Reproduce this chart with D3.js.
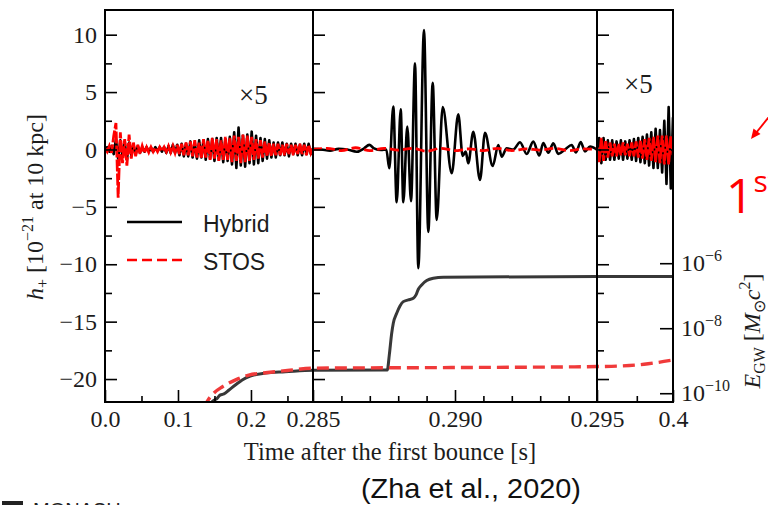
<!DOCTYPE html>
<html><head><meta charset="utf-8">
<script src="https://cdn.jsdelivr.net/npm/d3@7"></script>
<style>body{margin:0;background:#fff}svg{display:block}</style>
</head><body><svg id="c" width="768" height="505"></svg>
<script>
// ---------------- DATA ----------------
// time breakpoints of the three panels [s]
const panelBreaks = [0, 0.285, 0.295, 0.4];
const hDomain = [-22, 12.15];
const eDomainExp = [-10.27, 1.79];

const xMajorTicks = [0, 0.1, 0.2, 0.285, 0.29, 0.295, 0.4];
const xMajorLabels = ["0.0", "0.1", "0.2", "0.285", "0.290", "0.295", "0.4"];
const xMinorTicks = [0.05, 0.15, 0.25, 0.286, 0.287, 0.288, 0.289, 0.291, 0.292, 0.293, 0.294, 0.35];
const hMajorTicks = [-20, -15, -10, -5, 0, 5, 10];
const hMinorTicks = [-17.5, -12.5, -7.5, -2.5, 2.5, 7.5];
const eTicks = [1e-6, 1e-8, 1e-10];
const eTickExp = ["−6", "−8", "−10"];

// panel 1 (shown x5)
const p1Time = [0,0.003,0.006,0.009,0.012,0.015,0.018,0.021,0.024,0.027,0.03,0.033,0.036,0.039,0.042,0.045,0.048,0.051,0.054,0.057,0.06,0.063,0.066,0.069,0.072,0.075,0.078,0.081,0.084,0.087,0.09,0.093,0.096,0.099,0.102,0.105,0.108,0.111,0.114,0.117,0.12,0.123,0.126,0.129,0.132,0.135,0.138,0.141,0.144,0.147,0.15,0.153,0.156,0.159,0.162,0.165,0.168,0.171,0.174,0.177,0.18,0.183,0.186,0.189,0.192,0.195,0.198,0.201,0.204,0.207,0.21,0.213,0.216,0.219,0.222,0.225,0.228,0.231,0.234,0.237,0.24,0.243,0.246,0.249,0.252,0.255,0.258,0.261,0.264,0.267,0.27,0.273,0.276,0.279,0.282,0.285];
const p1HybridX5 = [0,0.2,-0.2,0.3,-0.4,0.9,-0.8,0.8,-0.6,0.7,
 -0.9,0.6,-0.5,0.4,-0.4,0.3,-0.3,0.2,-0.2,0.2,
 -0.2,0.15,-0.2,0.2,-0.15,0.2,-0.2,0.2,-0.3,0.3,
 -0.3,0.4,-0.3,0.4,-0.5,0.5,-0.6,0.5,-0.6,0.7,
 -0.7,0.6,-0.8,0.8,-0.7,0.8,-0.9,0.9,-0.8,0.9,
 -1.0,1.0,-0.9,1.0,-1.1,0.9,-1.0,1.1,-1.3,1.5,
 -1.6,1.9,-1.4,1.2,-1.5,1.3,-1.2,1.55,-1.3,1.2,
 -1.2,1.0,-1.0,0.9,-0.8,0.8,-0.7,0.6,-0.7,0.6,
 -0.5,0.6,-0.5,0.5,-0.6,0.5,-0.4,0.5,-0.5,0.4,
 -0.5,0.5,-0.4,0.5,-0.4,0.1];
const p1StosX5 = [0.1,-0.2,0.3,-0.3,1.2,2.3,-4.2,1.5,-1.2,0.9,
 -1.4,1.3,-0.8,0.6,-0.6,0.4,-0.4,0.3,-0.3,0.2,
 -0.25,0.2,-0.2,0.15,-0.2,0.2,-0.15,0.2,-0.2,0.3,
 -0.25,0.3,-0.3,0.4,-0.4,0.5,-0.5,0.6,-0.5,0.7,
 -0.6,0.8,-0.7,0.6,-0.8,0.9,-0.7,0.8,-0.9,1.0,
 -0.8,0.9,-1.0,0.8,-0.9,1.1,-0.9,1.0,-1.1,1.2,
 -1.0,1.1,-1.2,1.3,-1.1,1.2,-1.0,1.1,-0.9,0.9,
 -0.8,0.8,-0.7,0.7,-0.6,0.6,-0.6,0.5,-0.5,0.5,
 -0.5,0.4,-0.5,0.5,-0.4,0.4,-0.5,0.4,-0.4,0.5,
 -0.4,0.4,-0.5,0.4,-0.3,0.2];

// panel 2 (true scale)
const p2HybridTime = [0.285,0.2853,0.2856,0.2859,0.2862,0.28654,0.2868,0.28698,0.28715,0.2874,0.28758,
 0.287687,0.287827,0.287947,0.288088,0.28818,0.28832,0.288451,0.288592,0.288708,0.288908,0.28906,0.289215,0.289356,0.289567,
 0.289884,0.290116,0.290271,0.290377,0.290468,0.290644,0.29088,0.291056,0.291327,0.291525,0.291644,0.29182,0.292053,
 0.292289,0.292525,0.292757,0.292968,0.293109,0.293285,0.293461,0.293637,0.293873,0.294109,0.294261,0.294426,0.294577,0.294754,0.294989];
const p2Hybrid = [0.05,0,-0.1,0.05,0,-0.2,0.1,0.4,0.1,-0.05,0,
 -1.64,3.73,-4.6,3.5,-4.6,2.0,-4.5,7.5,-10.35,10.4,-7.18,5.8,-6.14,3.7,
 -2.07,3.07,-0.57,-0.19,-1.2,1.55,-2.66,1.46,-1.44,0.39,-0.62,0.1,0,
 0.63,-0.39,0.68,-0.53,0.56,-0.29,0.54,-0.39,0,0.39,-0.25,0.65,-0.17,0.26,0];
const p2StosTime = [0.285,0.2855,0.286,0.2865,0.287,0.2875,0.288,0.2885,0.289,0.2895,0.29,0.2905,0.291,0.2915,0.292,0.2925,0.293,0.2935,0.294,0.2945,0.295];
const p2Stos = [0,0.1,-0.1,0.15,-0.1,0.1,-0.05,0.1,-0.15,0.1,-0.1,0.05,-0.1,0.1,-0.1,0.05,-0.05,0.1,-0.1,0.05,0];

// panel 3 (shown x5)
const p3Time = [0.295,0.298,0.301,0.304,0.307,0.31,0.313,0.316,0.319,0.322,0.325,0.328,0.331,0.334,0.337,0.34,0.343,0.346,0.349,0.352,0.355,0.358,0.361,0.364,0.367,0.37,0.373,0.376,0.379,0.382,0.385,0.388,0.391,0.394,0.397,0.4];
const p3HybridX5 = [0,1.0,-1.2,1.0,-0.9,0.8,-0.9,0.8,-0.9,0.7,
 -0.8,0.8,-0.9,0.7,-0.8,0.8,-0.9,0.9,-1.0,1.0,
 -1.1,1.1,-1.2,1.3,-1.4,1.5,-1.6,1.8,-1.6,1.7,
 -2.0,2.5,-3.0,3.7,-3.4,2.8];
const p3StosX5 = [0.2,-1.1,1.0,-1.0,0.8,-0.7,0.6,-0.6,0.5,-0.6,
 0.5,-0.5,0.6,-0.5,0.5,-0.6,0.6,-0.6,0.7,-0.7,
 0.8,-0.8,0.9,-0.9,1.0,-1.0,1.1,-1.1,1.2,-1.2,
 1.2,-1.3,1.2,-1.3,1.2,-0.5];

// cumulative GW energy [M_sun c^2]
const eHybridTime = [0.14,0.147,0.154,0.158,0.163,0.17,0.179,0.188,0.199,0.22,0.247,0.285,0.287616,0.287687,0.287771,0.287827,0.287947,0.288063,0.28818,0.288356,0.288532,0.288627,0.288708,0.288827,0.289004,0.289236,0.289588,0.295,0.4];
const eHybrid = [3.5e-11,5.5e-11,7.1e-11,8.9e-11,9.5e-11,1.26e-10,1.82e-10,2.57e-10,3.39e-10,4.17e-10,4.57e-10,5.13e-10,5.21e-10,1.51e-9,7.02e-9,1.43e-8,2.9e-8,4.85e-8,6.58e-8,7.43e-8,8.38e-8,1.06e-7,1.58e-7,2.15e-7,2.92e-7,3.45e-7,3.71e-7,3.87e-7,3.87e-7];
const eStosTime = [0.136,0.14,0.149,0.161,0.179,0.197,0.22,0.25,0.285,0.29,0.295,0.33,0.36,0.38,0.4];
const eStos = [3.5e-11,5.5e-11,1.0e-10,1.58e-10,2.57e-10,3.63e-10,4.27e-10,5.0e-10,5.89e-10,6.17e-10,6.61e-10,6.92e-10,7.76e-10,8.91e-10,1.05e-9];

const legendLabels = ["Hybrid", "STOS"];

// ---------------- DRAW ----------------
const svg = d3.select("#c");
const L = 105, R = 673, T = 10, B = 402;
const serif = "'Liberation Serif','Times New Roman',serif";
const sans = "'Liberation Sans',Arial,sans-serif";
const ink = "#1c1c1c";

const x = d3.scaleLinear().domain(panelBreaks).range([L, 313, 597, R]);
const yH = d3.scaleLinear().domain(hDomain).range([B, T]);
const yE = d3.scaleLog().domain(eDomainExp.map(e => Math.pow(10, e))).range([B, T]);

svg.append("defs").append("clipPath").attr("id", "clip")
  .append("rect").attr("x", L).attr("y", T).attr("width", R - L).attr("height", B - T);
const plot = svg.append("g").attr("clip-path", "url(#clip)");

const zip = (ts, vs) => ts.map((t, i) => ({ t, v: vs[i] }));
const lineH = (curve) => d3.line().x(d => x(d.t)).y(d => yH(d.v)).curve(curve);
const lineE = d3.line().x(d => x(d.t)).y(d => yE(d.v)).curve(d3.curveMonotoneX);

// energy curves
plot.append("path").datum(zip(eHybridTime, eHybrid)).attr("d", lineE)
  .attr("fill", "none").attr("stroke", "#383838").attr("stroke-width", 3);
plot.append("path").datum(zip(eStosTime, eStos)).attr("d", lineE)
  .attr("fill", "none").attr("stroke", "#f03a3a").attr("stroke-width", 3.4).attr("stroke-dasharray", "12,6");

// h+ Hybrid
[[p1Time, p1HybridX5, d3.curveLinear], [p2HybridTime, p2Hybrid, d3.curveMonotoneX], [p3Time, p3HybridX5, d3.curveLinear]]
  .forEach(([ts, vs, c]) => plot.append("path").datum(zip(ts, vs)).attr("d", lineH(c))
    .attr("fill", "none").attr("stroke", "#000").attr("stroke-width", 2.6).attr("stroke-linejoin", "round"));
// h+ STOS
[[p1Time, p1StosX5, d3.curveLinear, "12,2"], [p2StosTime, p2Stos, d3.curveMonotoneX, "9,4"], [p3Time, p3StosX5, d3.curveLinear, "12,2"]]
  .forEach(([ts, vs, c, dash]) => plot.append("path").datum(zip(ts, vs)).attr("d", lineH(c))
    .attr("fill", "none").attr("stroke", "#ff0000").attr("stroke-width", 2.8).attr("stroke-dasharray", dash));

// axes helper
function place(axis, tx, ty) {
  const g = svg.append("g").attr("transform", `translate(${tx},${ty})`).call(axis);
  g.select(".domain").remove();
  g.selectAll("line").attr("stroke", "#000").attr("stroke-width", 1.6);
  g.selectAll("text").attr("font-family", serif).attr("font-size", 24).attr("fill", ink);
  return g;
}
// bottom
place(d3.axisBottom(x).tickValues(xMajorTicks).tickSize(-12).tickPadding(8)
  .tickFormat((d, i) => xMajorLabels[i]), 0, B);
place(d3.axisBottom(x).tickValues(xMinorTicks).tickSize(-6).tickFormat(""), 0, B);
// left + dividers
const minus = d => d < 0 ? "−" + (-d) : String(d);
place(d3.axisLeft(yH).tickValues(hMajorTicks).tickSize(-12).tickPadding(8).tickFormat(minus), L, 0);
place(d3.axisLeft(yH).tickValues(hMinorTicks).tickSize(-7).tickFormat(""), L, 0);
[0.285, 0.295].forEach(t => {
  place(d3.axisLeft(yH).tickValues(hMajorTicks).tickSize(-12).tickFormat(""), x(t), 0);
  place(d3.axisLeft(yH).tickValues(hMinorTicks).tickSize(-7).tickFormat(""), x(t), 0);
});
// right log axis
place(d3.axisRight(yE).tickValues(eTicks).tickSize(-13).tickFormat(""), R, 0);
eTicks.forEach((v, i) => {
  const t = svg.append("text").attr("x", R + 8).attr("y", yE(v) + 8)
    .attr("font-family", serif).attr("font-size", 24).attr("fill", ink);
  t.append("tspan").text("10");
  t.append("tspan").attr("dy", -10).attr("font-size", 16).text(eTickExp[i]);
});

// frame
svg.append("rect").attr("x", L).attr("y", T).attr("width", R - L).attr("height", B - T)
  .attr("fill", "none").attr("stroke", "#000").attr("stroke-width", 2);
[0.285, 0.295].forEach(t => svg.append("line").attr("x1", x(t)).attr("x2", x(t))
  .attr("y1", T).attr("y2", B).attr("stroke", "#000").attr("stroke-width", 2));

// x5 labels
[[239, 104], [624, 93]].forEach(([px, py]) => svg.append("text").attr("x", px).attr("y", py)
  .attr("font-family", serif).attr("font-size", 27).attr("fill", ink).text("×5"));

// legend
svg.append("line").attr("x1", 127).attr("x2", 182).attr("y1", 222).attr("y2", 222)
  .attr("stroke", "#000").attr("stroke-width", 2.6);
svg.append("line").attr("x1", 127).attr("x2", 182).attr("y1", 260).attr("y2", 260)
  .attr("stroke", "#ff0000").attr("stroke-width", 2.6).attr("stroke-dasharray", "10,5");
svg.append("text").attr("x", 203).attr("y", 231.5).attr("font-family", sans).attr("font-size", 23)
  .attr("fill", ink).text(legendLabels[0]);
svg.append("text").attr("x", 203).attr("y", 270).attr("font-family", sans).attr("font-size", 23)
  .attr("fill", ink).text(legendLabels[1]);

// axis titles
svg.append("text").attr("x", (L + R) / 2 + 1).attr("y", 460).attr("text-anchor", "middle")
  .attr("font-family", serif).attr("font-size", 24.5).attr("fill", ink)
  .text("Time after the first bounce [s]");

const yl = svg.append("text").attr("transform", "translate(43,207) rotate(-90)")
  .attr("text-anchor", "middle").attr("font-family", serif).attr("font-size", 24).attr("fill", ink);
yl.append("tspan").attr("font-style", "italic").text("h");
yl.append("tspan").attr("font-size", 16).attr("dy", 5).text("+");
yl.append("tspan").attr("dy", -5).text(" [10");
yl.append("tspan").attr("font-size", 16).attr("dy", -10).text("−21");
yl.append("tspan").attr("dy", 10).text(" at 10 kpc]");

const el = svg.append("text").attr("transform", "translate(760,331) rotate(-90)")
  .attr("text-anchor", "middle").attr("font-family", serif).attr("font-size", 24).attr("fill", ink);
el.append("tspan").attr("font-style", "italic").text("E");
el.append("tspan").attr("font-size", 16).attr("dy", 5).text("GW");
el.append("tspan").attr("dy", -5).text(" [");
el.append("tspan").attr("font-style", "italic").text("M");
el.append("tspan").attr("font-size", 16).attr("dy", 5).text("⊙");
el.append("tspan").attr("dy", -5).attr("font-style", "italic").text("c");
el.append("tspan").attr("font-size", 16).attr("dy", -10).text("2");
el.append("tspan").attr("dy", 10).text("]");

// citation
svg.append("text").attr("x", 471).attr("y", 498).attr("text-anchor", "middle")
  .attr("font-family", sans).attr("font-size", 28).attr("fill", "#111")
  .attr("textLength", 220).attr("lengthAdjust", "spacingAndGlyphs").text("(Zha et al., 2020)");

// red slide annotation (cropped at the slide edge, as in the reference)
const ann = svg.append("text").attr("x", 726).attr("y", 213).attr("font-family", "'Open Sans',sans-serif")
  .attr("fill", "#ff0000").attr("font-size", 48);
ann.append("tspan").text("1");
ann.append("tspan").attr("font-size", 30).attr("dy", -21).text("st");
svg.append("line").attr("x1", 772).attr("y1", 113).attr("x2", 756).attr("y2", 133)
  .attr("stroke", "#ff0000").attr("stroke-width", 2);
svg.append("path").attr("d", "M751,139 L753.5,128.5 L760.5,134 Z").attr("fill", "#ff0000");

// cropped logo at bottom-left
svg.append("rect").attr("x", 2).attr("y", 501).attr("width", 21).attr("height", 6).attr("fill", "#222");
svg.append("text").attr("x", 33).attr("y", 517).attr("font-family", sans).attr("font-size", 20)
  .attr("fill", "#222").text("MONASH");
</script></body></html>
